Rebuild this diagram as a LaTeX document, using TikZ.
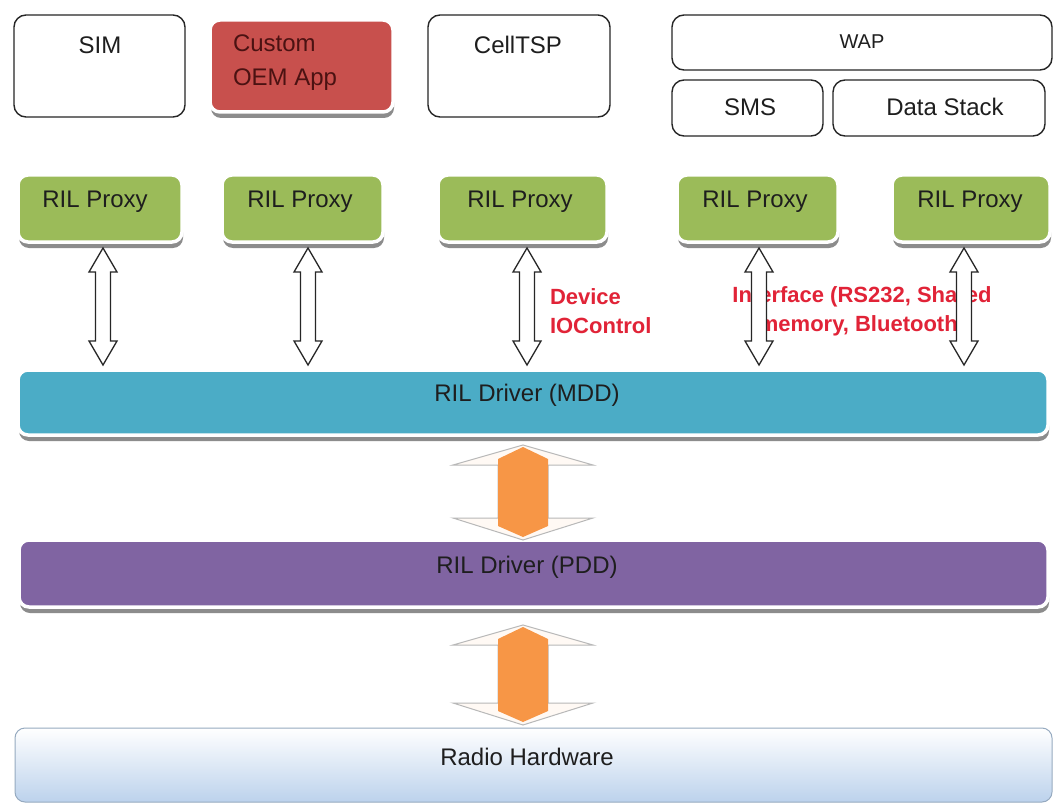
\documentclass[tikz,border=0pt]{standalone}
\usepackage{fontspec}
\setmainfont{Liberation Sans}
\usetikzlibrary{shadows,calc}
\definecolor{pgreen}{RGB}{155,187,89}
\definecolor{pred}{RGB}{200,80,77}
\definecolor{paqua}{RGB}{75,172,198}
\definecolor{ppurple}{RGB}{128,100,162}
\definecolor{plabel}{RGB}{225,35,55}
\definecolor{porange}{RGB}{247,150,70}
\definecolor{hwblue}{RGB}{188,210,236}
\definecolor{hwedge}{RGB}{150,170,192}
\definecolor{txt}{RGB}{30,30,30}
\definecolor{redtxt}{RGB}{75,18,18}
\begin{document}
\begin{tikzpicture}[x=1pt,y=-1pt,
  every node/.style={inner sep=0pt,outer sep=0pt},
  body/.style={font=\fontsize{24}{30}\selectfont, text=txt},
  app/.style={draw=black!85,line width=1.4pt,rounded corners=12pt,fill=white},
  shd/.style={draw=white,line width=3.5pt,rounded corners=10pt,
     drop shadow={shadow xshift=1pt,shadow yshift=-6pt,fill=black!45,opacity=1}},
  proxy/.style={shd,fill=pgreen,minimum height=67pt},
  bar/.style={shd,minimum height=66pt},
  redlabel/.style={font=\bfseries\fontsize{22}{29}\selectfont,text=plabel},
  hollowarr/.style={draw=black!85,fill=white,line width=1.3pt,line join=miter,
    to path={let \p1=(\tikztostart),\p2=(\tikztotarget) in
      (\x1,\y1) -- (\x1+14pt,\y1-24pt) -- (\x1+7.5pt,\y1-24pt) -- (\x2+7.5pt,\y2+24pt)
      -- (\x2+14pt,\y2+24pt) -- (\x2,\y2) -- (\x2-14pt,\y2+24pt) -- (\x2-7.5pt,\y2+24pt)
      -- (\x1-7.5pt,\y1-24pt) -- (\x1-14pt,\y1-24pt) -- cycle}},
  oouter/.style={fill=porange!6,draw=black!28,line width=1pt,
    to path={let \p1=(\tikztostart),\p2=(\tikztotarget) in
      (\x1,\y1) -- (\x1+70pt,\y1-20pt) -- (\x1+25pt,\y1-20pt) -- (\x2+25pt,\y2+22pt)
      -- (\x2+70pt,\y2+22pt) -- (\x2,\y2) -- (\x2-70pt,\y2+22pt) -- (\x2-25pt,\y2+22pt)
      -- (\x1-25pt,\y1-20pt) -- (\x1-70pt,\y1-20pt) -- cycle}},
  oinner/.style={fill=porange,draw=none,
    to path={let \p1=(\tikztostart),\p2=(\tikztotarget) in
      (\x1,\y1-2pt) -- (\x1+25pt,\y1-14pt) -- (\x2+25pt,\y2+14pt) -- (\x2,\y2+3pt)
      -- (\x2-25pt,\y2+14pt) -- (\x1-25pt,\y1-14pt) -- cycle}}
]
\useasboundingbox (0,0) rectangle (1057,805);
\fill[white] (0,0) rectangle (1057,805);

% application boxes
\node[app,minimum width=171pt,minimum height=102pt] (sim) at (99.5,66) {};
\node[shd,fill=pred,minimum width=183pt,minimum height=92pt] (oem) at (301.5,66) {};
\node[app,minimum width=182pt,minimum height=102pt] (celltsp) at (519,66) {};
\node[app,minimum width=380pt,minimum height=55pt] (wap) at (862,42.5) {};
\node[app,minimum width=151pt,minimum height=56pt] (sms) at (747.5,108) {};
\node[app,minimum width=212pt,minimum height=56pt] (data) at (939,108) {};

\node[body] (simt) at (100,45) {SIM};
\node[body,text=redtxt,align=left,anchor=west,font=\fontsize{24}{34}\selectfont] (oemt) at (233,63) {Custom\\OEM App};
\node[body] (celltspt) at (518,45) {CellTSP};
\node[body,font=\fontsize{20}{24}\selectfont] (wapt) at (862,42) {WAP};
\node[body] (smst) at (750,107) {SMS};
\node[body] (datat) at (945,107) {Data Stack};

% proxies
\node[proxy,minimum width=164pt] (p1) at (100,208.5) {};
\node[proxy,minimum width=161pt] (p2) at (302.5,208.5) {};
\node[proxy,minimum width=169pt] (p3) at (522.5,208.5) {};
\node[proxy,minimum width=161pt] (p4) at (757.5,208.5) {};
\node[proxy,minimum width=158pt] (p5) at (971,208.5) {};
\node[body] (p1t) at (95,202) {RIL Proxy};
\node[body] (p2t) at (300,202) {RIL Proxy};
\node[body] (p3t) at (520,202) {RIL Proxy};
\node[body] (p4t) at (755,202) {RIL Proxy};
\node[body] (p5t) at (970,202) {RIL Proxy};

% driver bars
\node[bar,fill=paqua,minimum width=1030pt,minimum height=65pt] (mdd) at (533,402.5) {};
\node[bar,fill=ppurple,minimum width=1029pt,minimum height=67pt] (pdd) at (533.5,573.5) {};
\node[draw=hwedge,line width=1pt,rounded corners=10pt,top color=white,bottom color=hwblue,
      minimum width=1037pt,minimum height=74pt] (radio) at (533.5,765) {};
\node[body] (mddt) at (527,395) {RIL Driver (MDD)};
\node[body] (pddt) at (527,567) {RIL Driver (PDD)};
\node[body] (radiot) at (527,757) {Radio Hardware};

% red labels
\node[redlabel,align=left,anchor=west] (devlab) at (550,311) {Device\\IOControl};
\node[redlabel,align=center] (iflab) at (862,311) {Interface (RS232, Shared\\memory, Bluetooth)};

% hollow arrows
\coordinate (a1t) at (103,248); \coordinate (a1b) at (103,365);
\coordinate (a2t) at (308,248); \coordinate (a2b) at (308,365);
\coordinate (a3t) at (527,248); \coordinate (a3b) at (527,365);
\coordinate (a4t) at (759,248); \coordinate (a4b) at (759,365);
\coordinate (a5t) at (964,248); \coordinate (a5b) at (964,365);
\draw[hollowarr] (a1t) to (a1b);
\draw[hollowarr] (a2t) to (a2b);
\draw[hollowarr] (a3t) to (a3b);
\draw[hollowarr] (a4t) to (a4b);
\draw[hollowarr] (a5t) to (a5b);

% orange arrows
\coordinate (o1t) at (523,445); \coordinate (o1b) at (523,540);
\coordinate (o2t) at (523,625); \coordinate (o2b) at (523,725);
\draw[oouter] (o1t) to (o1b);
\draw[oinner] (o1t) to (o1b);
\draw[oouter] (o2t) to (o2b);
\draw[oinner] (o2t) to (o2b);
\end{tikzpicture}
\end{document}
